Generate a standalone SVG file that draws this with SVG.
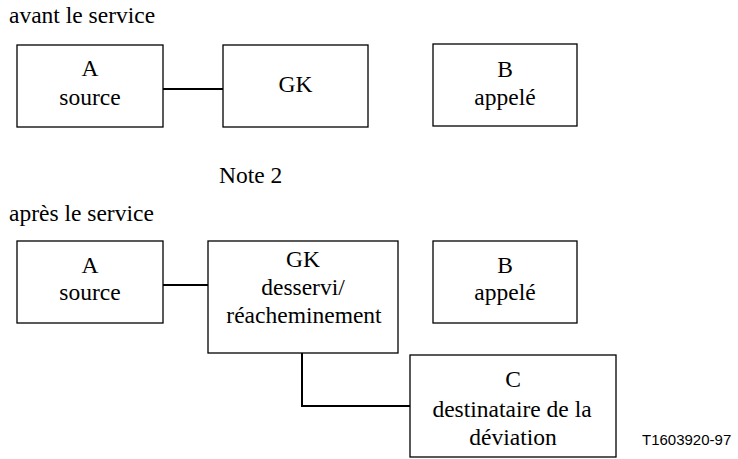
<svg xmlns="http://www.w3.org/2000/svg" width="738" height="459" viewBox="0 0 738 459">
<style>
rect{fill:#fff;stroke:#000;stroke-width:1.3}
text{font-family:"Liberation Serif","Times New Roman",serif;font-size:23.5px;fill:#000}
.c{text-anchor:middle}
.l{fill:none;stroke:#000;stroke-width:2}
.id{font-family:"Liberation Sans",Arial,sans-serif;font-size:15px}
</style>
<rect width="738" height="459" style="stroke:none"/>
<text x="9" y="23">avant le service</text>
<text x="219" y="183">Note 2</text>
<text x="9" y="221">après le service</text>
<text class="id" x="642" y="445">T1603920-97</text>
<g id="connectors">
<line class="l" x1="163" y1="89" x2="223" y2="89"/>
<line class="l" x1="163" y1="285" x2="208" y2="285"/>
<polyline class="l" points="302,353 302,406 410,406"/>
</g>
<g id="a1"><rect x="17" y="45" width="146" height="82"/><text class="c" x="90" y="76">A</text><text class="c" x="90" y="105">source</text></g>
<g id="gk1"><rect x="223" y="45" width="145" height="82"/><text class="c" x="295.5" y="92">GK</text></g>
<g id="b1"><rect x="433" y="44" width="144" height="82"/><text class="c" x="505" y="77">B</text><text class="c" x="505" y="105">appelé</text></g>
<g id="a2"><rect x="17" y="241" width="146" height="82"/><text class="c" x="90" y="273">A</text><text class="c" x="90" y="300">source</text></g>
<g id="gk2"><rect x="208" y="241" width="190" height="112"/><text class="c" x="303" y="267">GK</text><text class="c" x="303" y="295">desservi/</text><text class="c" x="304" y="323">réacheminement</text></g>
<g id="b2"><rect x="433" y="241" width="144" height="82"/><text class="c" x="505" y="273">B</text><text class="c" x="505" y="300">appelé</text></g>
<g id="c"><rect x="410" y="355" width="206" height="102"/><text class="c" x="513" y="387">C</text><text class="c" x="512" y="417">destinataire de la</text><text class="c" x="513" y="445">déviation</text></g>
</svg>
